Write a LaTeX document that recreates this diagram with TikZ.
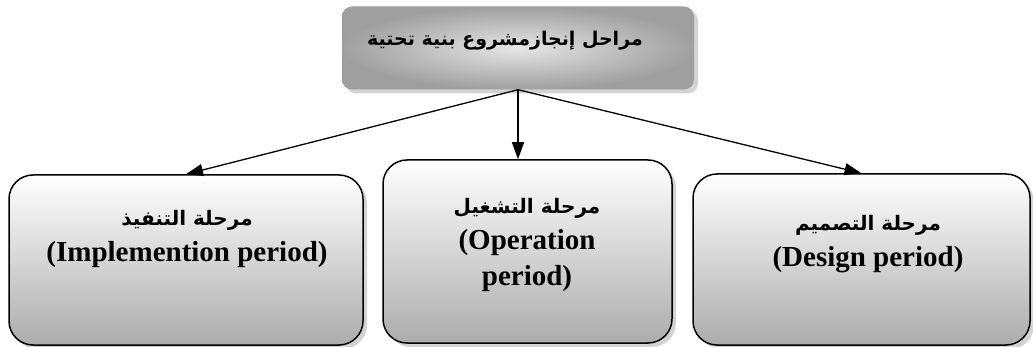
\documentclass[tikz,border=0pt]{standalone}
\usepackage{fontspec}
\setmainfont{Liberation Serif}
\newfontfamily\arabicfont[Script=Arabic]{DejaVu Sans}
\TeXXeTstate=1
\usetikzlibrary{positioning,shadows,arrows.meta}

\tikzset{
  rootbox/.style={rounded corners=10pt, inner color=gray!20, outer color=gray!75,
    minimum width=352pt, minimum height=83pt,
    drop shadow={shadow xshift=4pt, shadow yshift=-4pt, opacity=0.35}},
  phasebox/.style={draw=black, line width=1.5pt, rounded corners=24pt,
    top color=white, bottom color=gray!65,
    drop shadow={shadow xshift=4pt, shadow yshift=-4pt, opacity=0.35}},
  phasetext/.style={align=center, font=\bfseries\fontsize{29}{36}\selectfont},
  link/.style={-{Triangle[length=17pt,width=12pt]}, line width=1.3pt}
}

\begin{document}
\begin{tikzpicture}[x=1pt, y=-1pt]
    % --- canvas ---
    \useasboundingbox (0,0) rectangle (1033,347);

    % --- top box ---
    \node[rootbox] (root) at (518,48) {};
    \node[font=\bfseries\fontsize{19}{24}\selectfont] (roottitle) at (505,41)
        {\arabicfont\beginR مراحل إنجازمشروع بنية تحتية\endR};

    % --- the three phases ---
    \node[phasebox, minimum width=354pt, minimum height=170pt] (impl) at (186,260) {};
    \node[phasebox, minimum width=289pt, minimum height=183pt] (oper) at (527.5,251.5) {};
    \node[phasebox, minimum width=337pt, minimum height=171pt] (design) at (861.5,259.5) {};

    % --- texts of the phases ---
    \node[phasetext] (impltext) at (187,239)
        {{\arabicfont\fontsize{20}{24}\selectfont\beginR مرحلة التنفيذ\endR}\\(Implemention period)};
    \node[phasetext] (opertext) at (527,245)
        {{\arabicfont\fontsize{20}{24}\selectfont\beginR مرحلة التشغيل\endR}\\(Operation\\period)};
    \node[phasetext] (designtext) at (868,244)
        {{\arabicfont\fontsize{20}{24}\selectfont\beginR مرحلة التصميم\endR}\\(Design period)};

    % --- connectors ---
    \draw[link] (root.south) -- (impl.north);
    \draw[link] (root.south) -- (root.south |- oper.north);
    \draw[link] (root.south) -- (design.north);
\end{tikzpicture}
\end{document}
